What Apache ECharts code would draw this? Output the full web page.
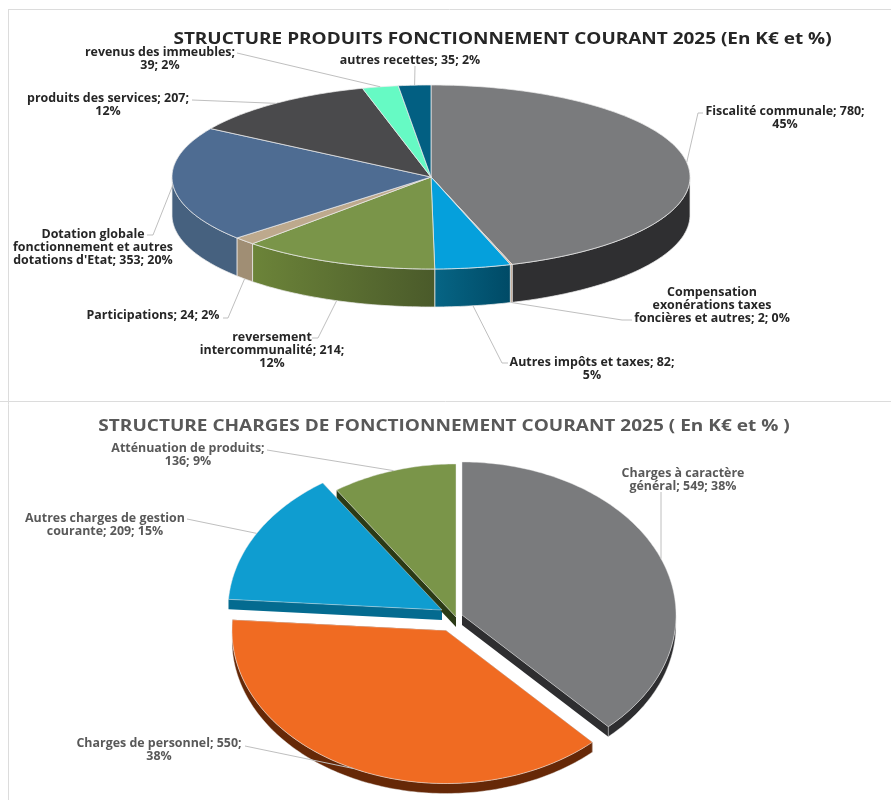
<!DOCTYPE html>
<html><head><meta charset="utf-8">
<style>html,body{margin:0;padding:0;background:#fff}#c{width:891px;height:800px}</style>
<script src="https://cdn.jsdelivr.net/npm/echarts@6/dist/echarts.min.js"></script>
</head><body><div id="c"></div>
<script>
// ---- data ----
const titleProduits = "STRUCTURE PRODUITS FONCTIONNEMENT COURANT 2025 (En K€ et %)";
const titleCharges = "STRUCTURE CHARGES DE FONCTIONNEMENT COURANT 2025 ( En K€ et % )";

const produitsNames = ["Fiscalité communale","Compensation\nexonérations taxes\nfoncières et autres","Autres impôts et taxes","reversement\nintercommunalité","Participations","Dotation globale\nfonctionnement et autres\ndotations d'Etat","produits des services","revenus des immeubles","autres recettes"];
const produitsValues = [780,2,82,214,24,353,207,39,35];
const produitsPercents = [45,0,5,12,2,20,12,2,2];

const chargesNames = ["Charges à caractère\ngénéral","Charges de personnel","Autres charges de gestion\ncourante","Atténuation de produits"];
const chargesValues = [549,550,209,136];
const chargesPercents = [38,38,15,9];

// ---- styling / layout (not data) ----
const FONT = '"Open Sans", sans-serif';
const LABEL_DY = 2;
const produitsStyle = {
  cx:431, cy:177, rx:259, ry:92, depth:38, textColor:'#262626',
  stroke:'rgba(235,235,235,0.9)',
  top:['#7a7b7d','#d9b397','#05a0dc','#7a9549','#bda98d','#4e6c92','#4a4a4c','#66fac4','#025f82'],
  wall:[['#2f2f31','#2f2f31'],['#b89a80','#b89a80'],['#004a66','#066585'],['#4a5a2a','#6c8439'],['#a08e74','#a08e74'],['#46617f','#46617f'],['#333','#333'],['#4fc09a','#4fc09a'],['#024a66','#024a66']],
  offsets:produitsValues.map(()=>[0,0]),
  seps:[['; ',';\n'],['; ','; '],['; ',';\n'],['; ',';\n'],['; ','; '],['; ','; '],['; ',';\n'],[';\n','; '],['; ','; ']],
  labels:[
    {x:785,y:116,path:[[703,113],[698,113]],at:'top'},
    {x:712,y:304,path:[[632,320],[622,320]],at:'wall'},
    {x:592,y:367.5,path:[[508,363],[502,363]],at:'wall'},
    {x:272,y:349,path:[[312,338],[318,338]],at:'wall'},
    {x:153,y:314,path:[[223,318],[228,318]],at:'wall'},
    {x:93,y:246,path:[[147,235],[153,235]],at:'top'},
    {x:108,y:103.5,path:[[192,100]],at:'top'},
    {x:160,y:57.5,path:[[237,53]],at:'top'},
    {x:410,y:59,path:[[415,66]],at:'top'}
  ]
};
const chargesStyle = {
  cx:452, cy:620, rx:214, ry:153, depth:10, textColor:'#595959',
  stroke:'rgba(235,235,235,0.55)',
  top:['#7a7b7d','#f06b22','#0f9dd0','#7a9549'],
  wall:[['#2e2e30','#2e2e30'],['#662807','#662807'],['#046b90','#046b90'],['#2b3a16','#2b3a16']],
  offsets:[[10,-5],[-6,10.5],[-10,-10],[4,-3]],
  seps:[['; ','; '],['; ',';\n'],['; ','; '],[';\n','; ']],
  labels:[
    {x:683,y:478.5,path:[[661,492]],at:'top'},
    {x:159,y:748.5,path:[[245,746]],at:'top'},
    {x:105,y:523.5,path:[[187,519]],at:'top'},
    {x:188,y:453.5,path:[[267,450]],at:'top'}
  ]
};

// ---- pie geometry from the values ----
const rad = d => d*Math.PI/180;
function pieSeries(names, values, percents, st){
  const total = values.reduce((a,b)=>a+b,0);
  let acc = 0;
  const spans = values.map(v=>{const a=acc/total*360; acc+=v; return [a,acc/total*360];});
  return {
    type:'custom', coordinateSystem:'none', silent:true, animation:false,
    data: values.map((v,i)=>({name:names[i].replace(/\n/g,' '),value:v})),
    renderItem(params){
      const i = params.dataIndex, [a,b] = spans[i];
      const cx = st.cx+st.offsets[i][0], cy = st.cy+st.offsets[i][1];
      const P = (t,d=0)=>[cx+st.rx*Math.sin(rad(t)), cy-st.ry*Math.cos(rad(t))+d];
      const arc = (s,e,d=0)=>{const pts=[];const n=Math.max(2,Math.ceil((e-s)));for(let k=0;k<=n;k++)pts.push(P(s+(e-s)*k/n,d));return pts;};
      const children = [];
      const lw = {stroke:st.stroke,lineWidth:0.8};
      // cut faces (only matter for exploded slices)
      if(st.offsets[i][0]||st.offsets[i][1]){
        [a,b].forEach(t=>{
          const r=P(t);
          children.push({type:'polygon',z2:1,shape:{points:[[cx,cy],r,[r[0],r[1]+st.depth],[cx,cy+st.depth]]},
            style:{fill:st.wall[i][0]}});
        });
      }
      // outer wall on the visible front half
      const ws=Math.max(a,90), we=Math.min(b,270);
      if(we>ws){
        const [c0,c1]=st.wall[i];
        children.push({type:'polygon',z2:2,shape:{points:arc(ws,we).concat(arc(ws,we,st.depth).reverse())},
          style:Object.assign({fill:c0===c1?c0:new echarts.graphic.LinearGradient(0,0,1,0,[{offset:0,color:c1},{offset:1,color:c0}])},lw)});
      }
      // top face
      children.push({type:'polygon',z2:3,shape:{points:[[cx,cy]].concat(arc(a,b))},
        style:Object.assign({fill:st.top[i]},lw)});
      // leader line + label
      const L=st.labels[i], m=(a+b)/2;
      const end=P(m,L.at==='wall'?st.depth:0);
      children.push({type:'polyline',z2:4,shape:{points:L.path.concat([end])},
        style:{fill:null,stroke:'#bfbfbf',lineWidth:1}});
      const [s1,s2]=st.seps[i];
      children.push({type:'text',z2:5,x:L.x,y:L.y+LABEL_DY,scaleX:1.08,style:{
        text:names[i]+s1+values[i]+s2+percents[i]+'%',
        x:0,y:0,align:'center',verticalAlign:'middle',
        font:'700 11.5px '+FONT,lineHeight:13,fill:st.textColor}});
      return {type:'group',children};
    }
  };
}

const frameColor='#dcdcdc';
const chart = echarts.init(document.getElementById('c'),null,{renderer:'canvas'});
chart.setOption({
  backgroundColor:'#fff',
  animation:false,
  graphic:[
    {type:'line',shape:{x1:8,y1:9.5,x2:891,y2:9.5},style:{stroke:frameColor,lineWidth:1}},
    {type:'line',shape:{x1:8.5,y1:9,x2:8.5,y2:800},style:{stroke:frameColor,lineWidth:1}},
    {type:'line',shape:{x1:0,y1:401.5,x2:891,y2:401.5},style:{stroke:frameColor,lineWidth:1}},
    {type:'text',x:502.5,y:39,scaleX:1.149,style:{text:titleProduits,align:'center',verticalAlign:'middle',font:'700 16.5px '+FONT,fill:'#262626'}},
    {type:'text',x:444,y:426,scaleX:1.153,style:{text:titleCharges,align:'center',verticalAlign:'middle',font:'700 16.5px '+FONT,fill:'#595959'}}
  ],
  series:[
    pieSeries(produitsNames,produitsValues,produitsPercents,produitsStyle),
    pieSeries(chargesNames,chargesValues,chargesPercents,chargesStyle)
  ]
});
</script></body></html>
